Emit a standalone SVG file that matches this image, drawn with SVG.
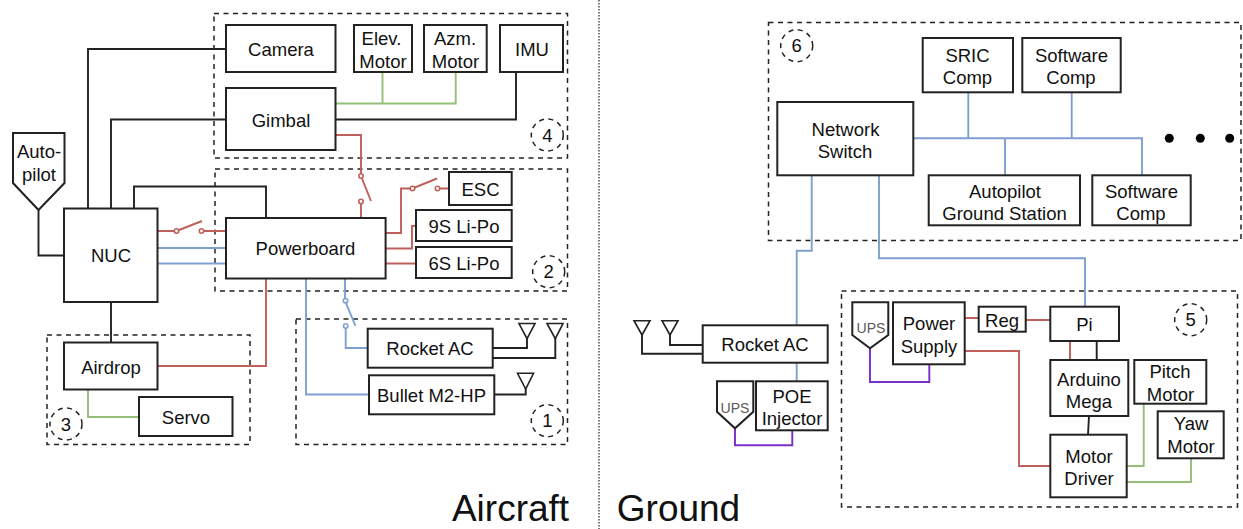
<svg xmlns="http://www.w3.org/2000/svg" width="1243" height="529" viewBox="0 0 1243 529">
<style>
text{font-family:"Liberation Sans",Arial,sans-serif;font-size:18.5px;fill:#111;text-anchor:middle}
.box{fill:#fff;stroke:#222;stroke-width:2}
.grp{fill:none;stroke:#222;stroke-width:1.5;stroke-dasharray:5 4.5}
.c{fill:none;stroke-width:1.9;stroke-linejoin:miter}
.k{stroke:#222}.r{stroke:#c0605c}.b{stroke:#7f9fd0}.g{stroke:#93bf78}.p{stroke:#7a2fc9}
.dr{fill:#fff;stroke:#c0605c;stroke-width:1.6}.db{fill:#fff;stroke:#7f9fd0;stroke-width:1.6}
.ant{fill:#fff;stroke:#222;stroke-width:1.6}
.title{font-size:37px}.ups{font-size:14px;fill:#595959}
</style>
<g id="groups">
<rect class="grp" x="214" y="13.500" width="353.500" height="144.500"/>
<rect class="grp" x="215" y="169" width="352.500" height="122"/>
<rect class="grp" x="47" y="335" width="203" height="109.500"/>
<rect class="grp" x="296" y="319" width="271.500" height="125.500"/>
<rect class="grp" x="768.500" y="22.500" width="472.500" height="218"/>
<rect class="grp" x="841.500" y="291" width="396" height="216"/>
<line x1="599" y1="0" x2="599" y2="529" stroke="#333" stroke-width="1.3" stroke-dasharray="1.5 1.5"/>
</g>
<g id="connectors">
<path class="c k" d="M226 49H88V208.500M226 119.500H111V208.500M134 208.500V186.500H266V218M38.500 210V255.500H64M111 302V342.500M335.500 119.500H516V72M492.700 348H527V338M492.700 358H555.300V338M494.300 394.500H525.700V388M670 335V345H702.700M642 335V353.700H702.700M1096.700 341V360M1089 416L1088 434.700"/>
<path class="c g" d="M335.500 103.500H455.700V72M382.500 103.500V72M88 389.500V417H139M1126.700 466H1143.700V403.700M1126.700 482H1191V458.300"/>
<path class="c r" d="M335.500 135H361V176L371 201M361 201.500V218M157.500 231H176.500M176.500 231L202 221M201.500 231H226M385.600 233H401V188.500H412.500L437 178.500M437.500 188.500H449M385.600 248.500H412V226H416M385.600 263.500H416M157.500 366H266V278M964.700 318H978.700M1025.700 320H1050.300M1070 341V360M964.700 351H1019V466H1050.300"/>
<path class="c b" d="M157.500 248H226M157.500 263.500H226M306 278V394.500H369M345 278V300.700L355.500 326M345.700 326V348H367.700M811.700 175.300V250.700H796.700V325.300M796.700 362.700V381.300M913.300 138.300H1142V175.300M968.300 92.300V138.300M1071.700 92.300V138.300M1005 138.300V175.300M879 175.300V258.300H1085V306.700"/>
<path class="c p" d="M735 428.300V445.300H792.300V430.300M870 348.300V382H929.300V364.300"/>
<circle class="dr" cx="361" cy="176" r="2.200"/><circle class="dr" cx="361" cy="201.500" r="2.200"/>
<circle class="dr" cx="176.500" cy="231" r="2.200"/><circle class="dr" cx="201.500" cy="231" r="2.200"/>
<circle class="dr" cx="412.500" cy="188.500" r="2.200"/><circle class="dr" cx="437.500" cy="188.500" r="2.200"/>
<circle class="db" cx="345.500" cy="300.700" r="2.200"/><circle class="db" cx="345.700" cy="326" r="2.200"/>
<path class="ant" d="M519 323.500H535L527 338.700ZM547 323.500H563L555.300 338.700ZM517.500 373.300H533.500L525.700 389ZM634 320.700H650L642 335ZM662 320.700H678L670 335Z"/>
</g>
<g id="n-camera"><rect class="box" x="226" y="25" width="109.500" height="47"/><text x="281" y="56">Camera</text></g>
<g id="n-gimbal"><rect class="box" x="226" y="88" width="109.500" height="62"/><text x="281" y="126.700">Gimbal</text></g>
<g id="n-elev"><rect class="box" x="354" y="25" width="58" height="47"/><text x="381.500" y="45">Elev.</text><text x="383" y="68">Motor</text></g>
<g id="n-azm"><rect class="box" x="424" y="25" width="62.700" height="47"/><text x="455" y="45">Azm.</text><text x="455.500" y="68">Motor</text></g>
<g id="n-imu"><rect class="box" x="500" y="25" width="63" height="47"/><text x="532" y="56">IMU</text></g>
<g id="n-autopilot"><path class="box" d="M13 133H64.500V183L38.500 210L13 183Z"/><text x="39" y="158">Auto-</text><text x="39" y="181">pilot</text></g>
<g id="n-nuc"><rect class="box" x="64" y="208.500" width="93.500" height="93.500"/><text x="111" y="262">NUC</text></g>
<g id="n-powerboard"><rect class="box" x="226" y="218" width="159.600" height="60.500"/><text x="305.500" y="255">Powerboard</text></g>
<g id="n-esc"><rect class="box" x="449" y="172" width="62.700" height="33"/><text x="480.500" y="196">ESC</text></g>
<g id="n-9s"><rect class="box" x="416" y="210" width="95.700" height="31"/><text x="464" y="233">9S Li-Po</text></g>
<g id="n-6s"><rect class="box" x="416" y="247" width="95.700" height="31"/><text x="464" y="270">6S Li-Po</text></g>
<g id="n-airdrop"><rect class="box" x="64" y="342.500" width="93.500" height="47"/><text x="111" y="374">Airdrop</text></g>
<g id="n-servo"><rect class="box" x="139" y="397" width="93.500" height="39"/><text x="186" y="424">Servo</text></g>
<g id="n-rocket-a"><rect class="box" x="367.700" y="328.700" width="125" height="39"/><text x="430" y="355">Rocket AC</text></g>
<g id="n-bullet"><rect class="box" x="369" y="375.300" width="125.300" height="39"/><text x="431.500" y="402">Bullet M2-HP</text></g>
<g id="n-switch"><rect class="box" x="777.300" y="102" width="136" height="73.300"/><text x="845.500" y="135.500">Network</text><text x="845" y="158">Switch</text></g>
<g id="n-sric"><rect class="box" x="922.700" y="38" width="90.300" height="54.300"/><text x="967.500" y="61.500">SRIC</text><text x="967.500" y="84">Comp</text></g>
<g id="n-sw1"><rect class="box" x="1022.300" y="38" width="98.400" height="54.300"/><text x="1071.500" y="61.500">Software</text><text x="1071" y="84">Comp</text></g>
<g id="n-agc"><rect class="box" x="928.700" y="175.300" width="151.300" height="50"/><text x="1005" y="197.500">Autopilot</text><text x="1004.500" y="220">Ground Station</text></g>
<g id="n-sw2"><rect class="box" x="1092.300" y="175.300" width="98.400" height="50"/><text x="1141.500" y="197.500">Software</text><text x="1141" y="220">Comp</text></g>
<g id="n-rocket-g"><rect class="box" x="702.700" y="325.300" width="125" height="37.400"/><text x="765" y="351">Rocket AC</text></g>
<g id="n-poe"><rect class="box" x="756" y="381.300" width="71.700" height="49"/><text x="792" y="402.500">POE</text><text x="792" y="425">Injector</text></g>
<g id="n-ups1"><path class="box" d="M717 381.300H753.300V411.700L735 428.300L717 411.700Z"/><text class="ups" x="735" y="413">UPS</text></g>
<g id="n-ups2"><path class="box" d="M852.300 302.300H888.300V335L870 348.300L852.300 335Z"/><text class="ups" x="871" y="333">UPS</text></g>
<g id="n-psu"><rect class="box" x="893" y="302.300" width="71.700" height="62"/><text x="929" y="330">Power</text><text x="929" y="352.500">Supply</text></g>
<g id="n-reg"><rect class="box" x="978.700" y="306.700" width="47" height="25"/><text x="1002" y="327">Reg</text></g>
<g id="n-pi"><rect class="box" x="1050.300" y="306.700" width="68.700" height="34.300"/><text x="1084.500" y="331">Pi</text></g>
<g id="n-arduino"><rect class="box" x="1050.300" y="360" width="78" height="56"/><text x="1089" y="385.500">Arduino</text><text x="1089" y="408">Mega</text></g>
<g id="n-driver"><rect class="box" x="1050.300" y="434.700" width="76.400" height="62.600"/><text x="1089" y="462.500">Motor</text><text x="1089" y="485">Driver</text></g>
<g id="n-pitch"><rect class="box" x="1134.300" y="360" width="72" height="43.700"/><text x="1170" y="378">Pitch</text><text x="1170.500" y="400.500">Motor</text></g>
<g id="n-yaw"><rect class="box" x="1157.700" y="411.300" width="66" height="47"/><text x="1191" y="430">Yaw</text><text x="1191" y="452.500">Motor</text></g>
<g id="labels">
<circle class="grp" cx="547.300" cy="135" r="16"/><text x="547.300" y="142">4</text>
<circle class="grp" cx="548.700" cy="271.700" r="16"/><text x="548.700" y="278">2</text>
<circle class="grp" cx="547.300" cy="420.700" r="16"/><text x="547.300" y="427">1</text>
<circle class="grp" cx="66" cy="424" r="16"/><text x="66" y="431">3</text>
<circle class="grp" cx="796.700" cy="45.700" r="16"/><text x="796.700" y="52">6</text>
<circle class="grp" cx="1190.700" cy="319.700" r="16"/><text x="1190.700" y="326">5</text>
<circle cx="1169.300" cy="138.300" r="4.500" fill="#000"/><circle cx="1200.300" cy="138.300" r="4.500" fill="#000"/><circle cx="1229.700" cy="138.300" r="4.500" fill="#000"/>
<text class="title" x="510.500" y="521">Aircraft</text>
<text class="title" x="678.500" y="521">Ground</text>
</g>
</svg>
